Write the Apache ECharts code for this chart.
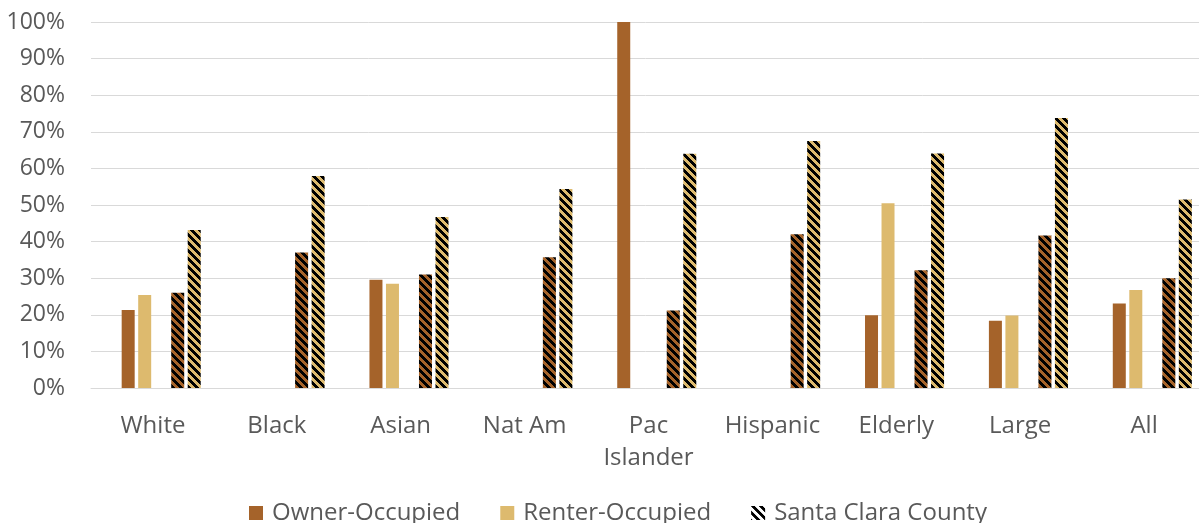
<!DOCTYPE html>
<html>
<head>
<meta charset="utf-8">
<script src="https://cdn.jsdelivr.net/npm/echarts@6/dist/echarts.min.js"></script>
<style>
html,body{margin:0;padding:0;background:#fff;}
#chart{width:1199px;height:523px;}
</style>
</head>
<body>
<div id="chart"></div>
<script>
const categories = ['White','Black','Asian','Nat Am','Pac\nIslander','Hispanic','Elderly','Large','All'];
const ownerOccupied = [21.3, null, 29.6, null, 100, null, 19.9, 18.4, 23.1];
const renterOccupied = [25.4, null, 28.5, null, null, null, 50.5, 19.8, 26.8];
const countyOwner = [26.0, 37.0, 31.0, 35.7, 21.2, 42.0, 32.2, 41.7, 30.0];
const countyRenter = [43.2, 57.9, 46.7, 54.4, 64.0, 67.5, 64.1, 73.8, 51.5];
const yTicks = [0,10,20,30,40,50,60,70,80,90,100];

const BROWN = '#A5632A';
const TAN = '#DDBA6E';

function hatch(bg, fg) {
  const c = document.createElement('canvas');
  c.width = 8; c.height = 8;
  const ctx = c.getContext('2d');
  ctx.fillStyle = bg; ctx.fillRect(0,0,8,8);
  ctx.fillStyle = fg;
  for (let y = 0; y < 8; y++) {
    for (let x = 0; x < 8; x++) {
      const d = ((x - y) % 8 + 8) % 8;
      if (d < 4) ctx.fillRect(x, y, 1, 1);
    }
  }
  return { image: c, repeat: 'repeat' };
}

const chart = echarts.init(document.getElementById('chart'), null, {renderer: 'canvas'});
const fontFamily = '"Open Sans", "Noto Sans", sans-serif';
const blank = categories.map(() => null);
const bw = 13;
chart.setOption({
  animation: false,
  backgroundColor: '#fff',
  grid: { left: 91, top: 22, width: 1115, height: 366, containLabel: false, outerBoundsMode: 'none' },
  legend: {
    top: 501,
    left: 249,
    padding: 0,
    itemWidth: 14, itemHeight: 14, itemGap: 40,
    icon: 'rect',
    data: ['Owner-Occupied', 'Renter-Occupied', 'Santa Clara County'],
    textStyle: { color: '#595959', fontSize: 24, fontFamily: fontFamily, padding: [0,0,0,4] }
  },
  xAxis: {
    type: 'category',
    data: categories,
    axisLine: { lineStyle: { color: '#D9D9D9', width: 1 } },
    axisTick: { show: false },
    axisLabel: { color: '#595959', fontSize: 24, fontFamily: fontFamily, margin: 22, lineHeight: 32, interval: 0 }
  },
  yAxis: {
    type: 'value',
    min: 0, max: 100, interval: 10,
    axisLine: { show: false },
    axisTick: { show: false },
    splitLine: { lineStyle: { color: '#D9D9D9', width: 1 } },
    axisLabel: { color: '#595959', fontSize: 23, fontFamily: fontFamily, margin: 26,
      formatter: v => yTicks.indexOf(v) >= 0 ? v + '%' : '' }
  },
  series: [
    { name: 'pad', type: 'bar', data: blank, barWidth: bw, barGap: '27%', itemStyle: { color: 'transparent' } },
    { name: 'Owner-Occupied', type: 'bar', data: ownerOccupied, barWidth: bw, barGap: '27%', itemStyle: { color: BROWN } },
    { name: 'Renter-Occupied', type: 'bar', data: renterOccupied, barWidth: bw, barGap: '27%', itemStyle: { color: TAN } },
    { name: 'Santa Clara County', type: 'bar', data: blank, barWidth: bw, barGap: '27%', itemStyle: { color: hatch('#ffffff', '#000000') } },
    { name: 'County Owner', type: 'bar', data: countyOwner, barWidth: bw, barGap: '27%', itemStyle: { color: hatch(BROWN, '#000000') } },
    { name: 'County Renter', type: 'bar', data: countyRenter, barWidth: bw, barGap: '27%', itemStyle: { color: hatch(TAN, '#000000') } }
  ]
});
</script>
</body>
</html>
